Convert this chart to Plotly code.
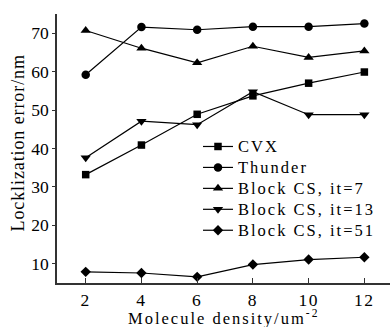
import plotly.graph_objects as go

density = [2, 4, 6, 8, 10, 12]
cvx = [33.2, 40.9, 48.9, 53.7, 57.0, 59.9]
thunder = [59.2, 71.6, 70.9, 71.7, 71.7, 72.5]
block7 = [70.7, 66.1, 62.3, 66.6, 63.7, 65.4]
block13 = [37.6, 47.1, 46.2, 54.8, 48.8, 48.8]
block51 = [7.9, 7.6, 6.6, 9.8, 11.1, 11.7]

names = ["CVX", "Thunder", "Block CS, it=7", "Block CS, it=13", "Block CS, it=51"]
series = [cvx, thunder, block7, block13, block51]
x_ticks = [2, 4, 6, 8, 10, 12]
y_ticks = [10, 20, 30, 40, 50, 60, 70]
symbols = ["square", "circle", "triangle-up", "triangle-down", "diamond"]
sizes = [7.5, 8.5, 9, 9, 8]

FONT = "Liberation Serif"
fig = go.Figure()
for n, s, sym, sz in zip(names, series, symbols, sizes):
    fig.add_trace(go.Scatter(
        x=density, y=s,
        name=f'<span style="font-size:16.5px;letter-spacing:2px">{n}</span>',
        mode="lines+markers",
        line=dict(color="black", width=1.2),
        marker=dict(symbol=sym, size=sz, color="black"),
    ))

fig.update_layout(
    width=390, height=327,
    margin=dict(l=57, r=0, t=14, b=44, autoexpand=False),
    plot_bgcolor="white", paper_bgcolor="white",
    font=dict(family=FONT, size=17, color="black"),
    showlegend=True,
    legend=dict(x=0.4234, y=0.565, xanchor="left", yanchor="top",
                bgcolor="rgba(0,0,0,0)", font=dict(family=FONT, size=13.8),
                itemwidth=30, tracegroupgap=0),
    xaxis=dict(range=[0.97, 12.92], tickvals=x_ticks,
               ticktext=[f'<span style="letter-spacing:1.5px">{t}</span>' for t in x_ticks],
               showgrid=False, zeroline=False, showline=True, linecolor="#333",
               linewidth=1.5, mirror=False, ticks="inside", ticklen=5,
               tickcolor="#333", automargin=False,
               tickfont=dict(family=FONT, size=17.5)),
    xaxis2=dict(range=[0.97, 12.92], overlaying="x", side="top", anchor="y",
                tickvals=x_ticks, showticklabels=False,
                showgrid=False, zeroline=False, showline=True, linecolor="#333",
                linewidth=1.5, ticks="inside", ticklen=5, tickcolor="#333",
                automargin=False),
    yaxis=dict(range=[5, 75], tickvals=y_ticks,
               showgrid=False, zeroline=False, showline=True, linecolor="#333",
               linewidth=1.5, ticks="outside", ticklen=3, tickcolor="#333",
               automargin=False, tickfont=dict(family=FONT, size=17.5)),
    annotations=[
        dict(text='<span style="letter-spacing:0.9px">Locklization error/nm</span>',
             xref="paper", yref="paper", x=0, y=0.5, xanchor="center",
             yanchor="middle", xshift=-40, yshift=5, textangle=-90, showarrow=False,
             font=dict(family=FONT, size=18)),
        dict(text='<span style="letter-spacing:2px">Molecule density/um<sup>-2</sup></span>',
             xref="paper", yref="paper", x=0.5, y=0, xanchor="center",
             yanchor="top", yshift=-22, showarrow=False,
             font=dict(family=FONT, size=16.5)),
    ],
)
fig.write_html(
    "out.html",
    config={"displayModeBar": False},
    post_script="document.body.style.margin='0';document.body.style.overflow='hidden';"
                "document.documentElement.style.overflow='hidden';",
)
